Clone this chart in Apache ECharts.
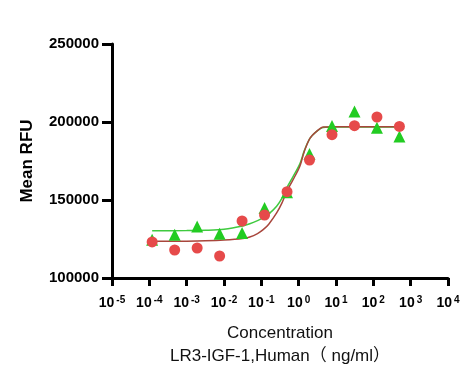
<!DOCTYPE html>
<html>
<head>
<meta charset="utf-8">
<script src="https://cdn.jsdelivr.net/npm/echarts@6/dist/echarts.min.js"></script>
<style>html,body{margin:0;padding:0;background:#fff;}#c{width:476px;height:388px;}</style>
</head>
<body>
<div id="c"></div>
<script>
// Concentrations (ng/ml), 4-fold dilution series
var conc = [0.000119, 0.000477, 0.00191, 0.00763, 0.0305, 0.122, 0.488, 1.953, 7.8125, 31.25, 125, 500];
var redValues = [123100, 117950, 119230, 114100, 136540, 140380, 155320, 175640, 191860, 197630, 203200, 197180];
var greenValues = [124500, 127760, 133080, 128400, 128850, 144870, 155000, 179490, 197440, 206800, 196350, 190770];

// fitted curves
var curveX = [0.000119, 0.001, 0.00316, 0.01, 0.0316, 0.049, 0.079, 0.112, 0.158, 0.257, 0.355, 0.479, 0.708, 1.07, 1.41, 2.0, 3.02, 4.57, 10, 500];
var redCurve = [123500, 123600, 123800, 124300, 125300, 126300, 128500, 131000, 134500, 141700, 148000, 155500, 163000, 171500, 181000, 189500, 194000, 196800, 197000, 197000];
var greenCurve = [130300, 130400, 130600, 131200, 133300, 134800, 136800, 138500, 141000, 146000, 151000, 157700, 165000, 173000, 181500, 189500, 194000, 196500, 196800, 196800];

var yTicks = [100000, 150000, 200000, 250000];

function pairs(xs, ys) { return xs.map(function (x, i) { return [x, ys[i]]; }); }

var FONT = 'Liberation Sans, Arial, Noto Sans CJK SC';
var chart = echarts.init(document.getElementById('c'));
chart.setOption({
  animation: false,
  backgroundColor: '#fff',
  grid: { left: 112, right: 28, top: 44, bottom: 110 },
  xAxis: {
    type: 'log', logBase: 10, min: 1e-5, max: 1e4, splitNumber: 9,
    name: 'Concentration\nLR3-IGF-1,Human（ ng/ml）',
    nameLocation: 'middle', nameGap: 44,
    nameTextStyle: { color: '#111', fontSize: 17, fontFamily: FONT, lineHeight: 23 },
    axisLine: { lineStyle: { color: '#000', width: 3 } },
    axisTick: { length: 8, lineStyle: { color: '#000', width: 3 } },
    splitLine: { show: false },
    axisLabel: {
      margin: 17,
      formatter: function (v) {
        var e = Math.round(Math.log10(v));
        return '{b|10}{s|' + e + '}';
      },
      rich: {
        b: { fontSize: 14, fontWeight: 'bold', color: '#000', fontFamily: FONT },
        s: { fontSize: 10, fontWeight: 'bold', color: '#000', fontFamily: FONT, verticalAlign: 'top', padding: [0, 0, 6, 2] }
      }
    }
  },
  yAxis: {
    type: 'value', min: yTicks[0], max: yTicks[yTicks.length - 1], interval: 50000,
    name: 'Mean RFU', nameLocation: 'middle', nameGap: 76,
    nameTextStyle: { color: '#000', fontSize: 17, fontWeight: 'bold', fontFamily: FONT },
    axisLine: { show: true, lineStyle: { color: '#000', width: 3 } },
    axisTick: { show: true, length: 10, lineStyle: { color: '#000', width: 3 } },
    splitLine: { show: false },
    axisLabel: { margin: 13, fontSize: 15, fontWeight: 'bold', color: '#000', fontFamily: FONT,
      formatter: function (v) { return String(v); } }
  },
  series: [
    { type: 'line', data: pairs(curveX, greenCurve), smooth: 0.3, symbol: 'none', lineStyle: { color: '#3fca3f', width: 1.5 }, z: 2 },
    { type: 'line', data: pairs(curveX, redCurve), smooth: 0.3, symbol: 'none', lineStyle: { color: '#a8463c', width: 1.5 }, z: 2 },
    { type: 'scatter', data: pairs(conc, greenValues), symbol: 'triangle', symbolSize: 12, itemStyle: { color: '#22cc22', opacity: 1 }, z: 3 },
    { type: 'scatter', data: pairs(conc, redValues), symbol: 'circle', symbolSize: 11, itemStyle: { color: '#e64a4a', opacity: 1 }, z: 4 }
  ]
});
</script>
</body>
</html>
